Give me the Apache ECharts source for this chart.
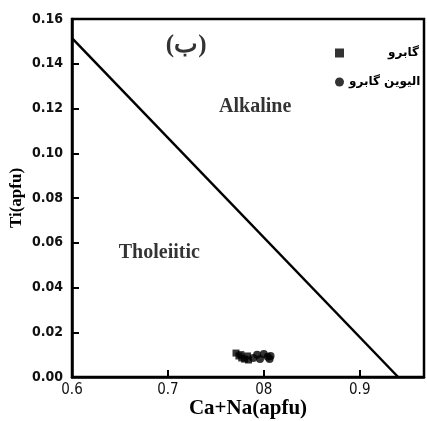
<!DOCTYPE html>
<html><head><meta charset="utf-8">
<script src="https://cdn.jsdelivr.net/npm/echarts@6/dist/echarts.min.js"></script>
<style>html,body{margin:0;padding:0;background:#fff}#c{width:427px;height:421px}</style>
</head><body><div id="c"></div>
<script>
var xTickLabels = {"0.6":"0.6","0.7":"0.7","0.8":"08","0.9":"0.9"};
var yTickLabels = ["0.00","0.02","0.04","0.06","0.08","0.10","0.12","0.14","0.16"];
var boundaryLine = [[0.6, 0.1515], [0.94, 0.0]];
var gabbro = [[0.771,0.0107],[0.774,0.0094],[0.777,0.0085],[0.780,0.0080],[0.783,0.0094],[0.784,0.0076],[0.776,0.0100]];
var olivineGabbro = [[0.789,0.0085],[0.793,0.0099],[0.796,0.0080],[0.800,0.0103],[0.804,0.0090],[0.807,0.0094],[0.806,0.0080]];
var regionLabels = [
  {name:"Alkaline", value:[0.791,0.1207], size:20},
  {name:"Tholeiitic", value:[0.691,0.0554], size:20},
  {name:"(ب)", value:[0.719,0.148], size:25}
];
var seriesNames = ["گابرو","الیوین گابرو"];

var chart = echarts.init(document.getElementById('c'));
var serif = "'Liberation Serif','DejaVu Serif',serif";
var narrow = "'DejaVu Sans Condensed','Liberation Sans',sans-serif";
chart.setOption({
  animation:false,
  backgroundColor:'#fff',
  grid:{left:72,right:3,top:19,bottom:44,show:true,borderColor:'#000',borderWidth:2.5,
        outerBoundsMode:'none', containLabel:false},
  legend:{
    orient:'vertical', left:330, top:42, itemGap:17,
    itemWidth:9, itemHeight:9,
    textStyle:{fontFamily:"'DejaVu Sans',sans-serif",fontWeight:'bold',fontSize:12,color:'#000'},
    data:[
      {name:seriesNames[0], icon:'rect', textStyle:{padding:[0,0,0,39]}},
      {name:seriesNames[1], icon:'circle'}
    ]
  },
  xAxis:{
    type:'value', min:0.6, max:0.967, interval:0.1,
    name:'Ca+Na(apfu)', nameLocation:'middle', nameGap:21, nameMoveOverlap:false,
    nameTextStyle:{fontFamily:serif,fontWeight:'bold',fontSize:21,color:'#000'},
    axisLine:{lineStyle:{color:'#000',width:2.5}},
    axisTick:{inside:true,length:7,lineStyle:{color:'#000',width:2}},
    splitLine:{show:false},
    axisLabel:{margin:6,fontFamily:narrow,fontSize:15,color:'#111',showMaxLabel:false,
      formatter:function(v){var k=(Math.round(v*10)/10).toFixed(1);return xTickLabels[k]||'';}}
  },
  yAxis:{
    type:'value', min:0, max:0.16, interval:0.02,
    name:'Ti(apfu)', nameLocation:'middle', nameGap:47, nameMoveOverlap:false,
    nameTextStyle:{fontFamily:serif,fontWeight:'bold',fontSize:17,color:'#000'},
    axisLine:{lineStyle:{color:'#000',width:2.5}},
    axisTick:{inside:true,length:7,lineStyle:{color:'#000',width:2}},
    splitLine:{show:false},
    axisLabel:{margin:9,fontFamily:narrow,fontWeight:'bold',fontSize:14,color:'#111',
      formatter:function(v){return yTickLabels[Math.round(v/0.02)];}}
  },
  series:[
    {type:'line', data:boundaryLine, symbol:'none', silent:true,
     lineStyle:{color:'#000',width:2.5}, z:3},
    {name:seriesNames[0], type:'scatter', data:gabbro, symbol:'rect', symbolSize:7,
     itemStyle:{color:'#000'}, z:4},
    {name:seriesNames[1], type:'scatter', data:olivineGabbro, symbol:'circle', symbolSize:8,
     itemStyle:{color:'#000'}, z:4},
    {type:'scatter', symbolSize:0, silent:true,
     data:regionLabels.map(function(d){
       return {name:d.name, value:d.value, label:{fontSize:d.size}};
     }),
     label:{show:true, position:'inside', formatter:'{b}',
       fontFamily:serif, fontWeight:'bold', color:'#000'}}
  ]
});
</script></body></html>
